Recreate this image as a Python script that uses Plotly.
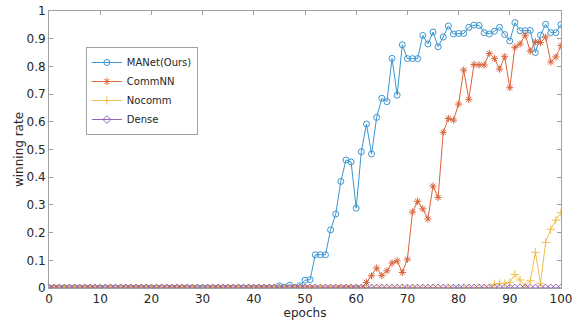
import plotly.graph_objects as go

epochs = list(range(0, 101))

manet = [0.0] * 45 + [
    0.008, 0.003, 0.010, 0.002, 0.008,            # 45-49
    0.028, 0.030, 0.120, 0.120, 0.120,            # 50-54
    0.210, 0.267, 0.385, 0.462, 0.455,            # 55-59
    0.288, 0.492, 0.592, 0.484, 0.616,            # 60-64
    0.685, 0.673, 0.829, 0.696, 0.878,            # 65-69
    0.828, 0.828, 0.828, 0.912, 0.881,            # 70-74
    0.924, 0.871, 0.906, 0.946, 0.917,            # 75-79
    0.919, 0.919, 0.941, 0.949, 0.948,            # 80-84
    0.922, 0.917, 0.927, 0.941, 0.915,            # 85-89
    0.892, 0.958, 0.929, 0.929, 0.930,            # 90-94
    0.850, 0.913, 0.952, 0.922, 0.922,            # 95-99
    0.951,                                        # 100
]

commnn = [0.0] * 62 + [
    0.020, 0.044, 0.072, 0.045, 0.062,            # 62-66
    0.090, 0.098, 0.056, 0.104, 0.274,            # 67-71
    0.313, 0.286, 0.249, 0.368, 0.327,            # 72-76
    0.562, 0.612, 0.606, 0.664, 0.787,            # 77-81
    0.681, 0.807, 0.805, 0.805, 0.847,            # 82-86
    0.829, 0.790, 0.835, 0.723, 0.869,            # 87-91
    0.881, 0.913, 0.855, 0.889, 0.886,            # 92-96
    0.906, 0.816, 0.834, 0.875,                   # 97-100
]

nocomm = [0.0] * 87 + [
    0.014, 0.016, 0.016, 0.020, 0.049,            # 87-91
    0.029, 0.007, 0.026, 0.129, 0.017,            # 92-96
    0.164, 0.212, 0.245, 0.272,                   # 97-100
]

dense = [0.0] * 101

series = [
    ("MANet(Ours)", manet, "#3b95d0", "circle-open"),
    ("CommNN", commnn, "#d9643a", "asterisk-open"),
    ("Nocomm", nocomm, "#efc04a", "cross-thin-open"),
    ("Dense", dense, "#9466b3", "diamond-open"),
]

x_ticks = [0, 10, 20, 30, 40, 50, 60, 70, 80, 90, 100]
y_ticks = [0, 0.1, 0.2, 0.3, 0.4, 0.5, 0.6, 0.7, 0.8, 0.9, 1]
y_tick_text = ["0", "0.1", "0.2", "0.3", "0.4", "0.5", "0.6", "0.7", "0.8", "0.9", "1"]

fig = go.Figure()
for name, vals, color, sym in series:
    fig.add_trace(go.Scatter(
        x=epochs, y=vals, name=name, mode="lines+markers",
        line=dict(color=color, width=1),
        marker=dict(symbol=sym, size=6, color=color, line=dict(width=1, color=color)),
    ))

font_main = dict(family="DejaVu Sans", size=12, color="#262626")

axis_common = dict(
    showgrid=False, zeroline=False, showline=True, linecolor="#a0a0a0", linewidth=1,
    mirror="ticks", ticks="inside", ticklen=4, tickcolor="#a0a0a0",
    tickfont=font_main, automargin=False, ticklabeloverflow="allow",
)

fig.update_layout(
    width=579, height=323,
    margin=dict(l=49, r=18, t=11, b=35),
    paper_bgcolor="white", plot_bgcolor="white",
    showlegend=True,
    legend=dict(
        x=0.072, y=0.87, xanchor="left", yanchor="top",
        bgcolor="white", bordercolor="#a0a0a0", borderwidth=1,
        font=dict(family="DejaVu Sans", size=10, color="#262626"),
        tracegroupgap=0, itemwidth=30,
    ),
    xaxis=dict(range=[0, 100], tickvals=x_ticks,
               title=dict(text="epochs", standoff=0, font=font_main),
               **axis_common),
    yaxis=dict(range=[0, 1], tickvals=y_ticks, ticktext=y_tick_text,
               title=dict(text="winning rate", standoff=0, font=font_main),
               **axis_common),
)

fig.write_html("out.html", config={"displayModeBar": False},
               post_script="document.body.style.margin='0';")
